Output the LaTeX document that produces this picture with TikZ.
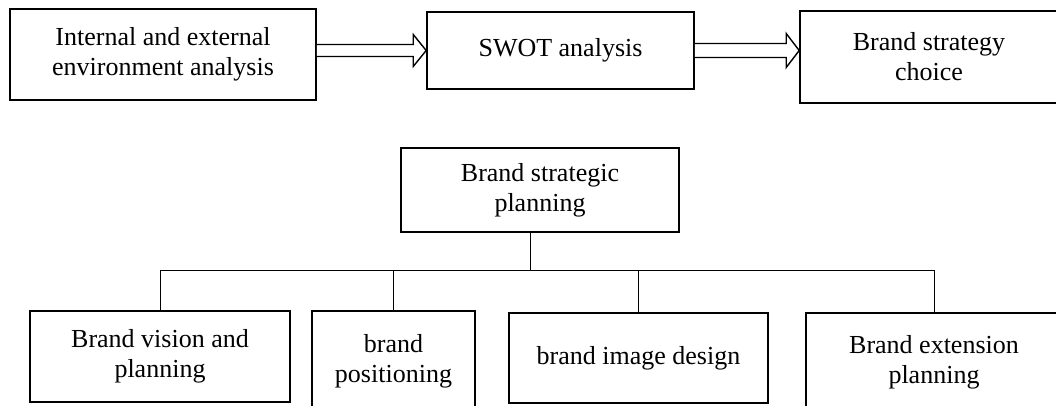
\documentclass[tikz,border=0pt]{standalone}
\usepackage{fontspec}
\setmainfont{Liberation Serif}
\usetikzlibrary{calc}

\begin{document}
\begin{tikzpicture}[
    x=1pt, y=-1pt,
    box/.style={
        rectangle,
        draw=black,
        line width=1.6pt,
        inner sep=0pt,
        align=center,
        font=\fontsize{26}{30}\selectfont
    },
    hollow/.style={
        draw=black,
        line width=1.4pt,
        line join=miter,
        fill=white
    },
    link/.style={
        draw=black,
        line width=0.9pt
    }
]

\useasboundingbox (0,0) rectangle (1056,406);

% Top row
\node[box, minimum width=306pt, minimum height=91pt] (env) at (163,54.5) {Internal and external\\environment analysis};
\node[box, minimum width=267pt, minimum height=77pt] (swot) at (560.5,50.5) {SWOT analysis};
\node[box, minimum width=258pt, minimum height=92pt] (choice) at (929,57) {Brand strategy\\choice};

% Hollow arrows
\draw[hollow] ($(env.east |- swot.west)+(0,6)$) -- ($(swot.west)+(-13,6)$) -- ($(swot.west)+(-13,16)$)
    -- (swot.west) -- ($(swot.west)+(-13,-16)$) -- ($(swot.west)+(-13,-6)$) -- ($(env.east |- swot.west)+(0,-6)$);
\draw[hollow] ($(swot.east)+(0,7)$) -- ($(choice.west |- swot.east)+(-13,7)$) -- ($(choice.west |- swot.east)+(-13,17)$)
    -- (choice.west |- swot.east) -- ($(choice.west |- swot.east)+(-13,-17)$) -- ($(choice.west |- swot.east)+(-13,-7)$) -- ($(swot.east)+(0,-7)$);

% Planning tree
\node[box, minimum width=278pt, minimum height=84pt] (plan) at (540,190) {Brand strategic\\planning};

\node[box, minimum width=260pt, minimum height=91pt] (vision) at (160,356.5) {Brand vision and\\planning};
\node[box, minimum width=163pt, minimum height=101pt] (position) at (393.5,361.5) {brand\\positioning};
\node[box, minimum width=259pt, minimum height=90pt] (image) at (638.5,358) {brand image design};
\node[box, minimum width=256pt, minimum height=99pt] (extension) at (934,362.5) {Brand extension\\planning};

\coordinate (bus) at (530,270);

\draw[link] (plan.south -| bus) -- (bus);
\draw[link] (vision.north |- bus) -- (extension.north |- bus);
\foreach \n in {vision, position, image, extension}
    \draw[link] (\n.north) -- (\n.north |- bus);

\end{tikzpicture}
\end{document}
